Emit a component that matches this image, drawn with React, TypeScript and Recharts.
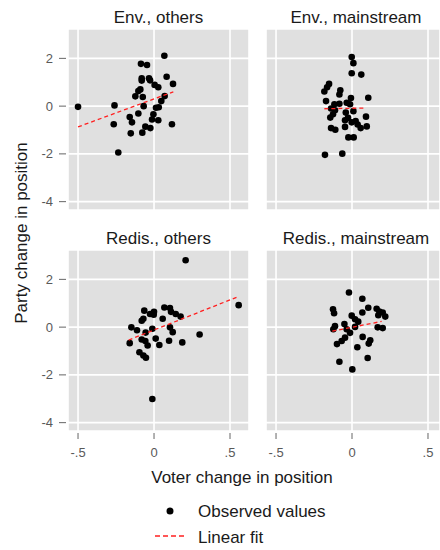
import React from 'react';
import { ScatterChart, Scatter, XAxis, YAxis, CartesianGrid } from 'recharts';

type Pt = [number, number];

const panelTitles = ['Env., others', 'Env., mainstream', 'Redis., others', 'Redis., mainstream'];
const xTicks = [-0.5, 0, 0.5];
const yTicks = [-4, -2, 0, 2];

const envOthers: Pt[] = [
  [-0.5, -0.03], [-0.26, 0.03], [-0.265, -0.76], [-0.235, -1.94], [-0.16, -0.46], [-0.145, -0.68],
  [-0.153, -1.14], [-0.123, 0.41], [-0.103, 0.63], [-0.09, 0.7], [-0.086, 1.77], [-0.046, 1.72],
  [-0.081, 1.17], [-0.081, 1.07], [-0.033, 1.17], [-0.026, 1.08], [-0.074, 0.38], [-0.068, 0.0],
  [-0.103, -0.31], [-0.077, -1.11], [-0.057, -0.86], [-0.024, -0.92], [-0.013, -0.56], [-0.004, -0.34],
  [0.013, -0.07], [0.031, -0.05], [0.028, -0.59], [0.004, 0.89], [0.028, 0.79], [0.048, 0.21],
  [0.07, 0.42], [0.068, 2.11], [0.083, 1.23], [0.125, 0.93], [0.118, -0.76],
];
const envOthersFit: Pt[] = [[-0.5, -0.87], [0.127, 0.6]];

const envMainstream: Pt[] = [
  [-0.002, 2.06], [0.009, 1.8], [-0.002, 1.38], [0.061, 1.32], [-0.151, 0.93], [-0.164, 0.79],
  [-0.182, 0.61], [-0.077, 0.66], [-0.083, 0.49], [-0.171, 0.21], [-0.007, 0.34], [0.107, 0.35],
  [-0.116, 0.08], [-0.083, 0.1], [-0.035, 0.14], [-0.013, 0.08], [-0.138, -0.1], [-0.112, -0.17],
  [-0.041, -0.27], [0.009, -0.21], [-0.143, -0.48], [-0.125, -0.34], [-0.046, -0.59], [-0.026, -0.49],
  [-0.002, -0.68], [0.024, -0.62], [0.092, -0.44], [0.057, -0.92], [0.097, -0.85], [-0.046, -0.87],
  [-0.138, -0.92], [-0.11, -0.99], [-0.024, -1.31], [0.011, -1.31], [-0.178, -2.04], [-0.064, -1.99],
  [0.037, -0.77],
];
const envMainstreamFit: Pt[] = [[-0.182, -0.11], [0.09, -0.08]];

const redisOthers: Pt[] = [
  [0.208, 2.8], [0.557, 0.92], [0.3, -0.31], [0.186, -0.64], [-0.011, -3.01], [-0.16, -0.67],
  [-0.149, -0.01], [-0.112, -0.13], [-0.064, 0.69], [-0.081, 0.27], [-0.07, 0.35], [-0.026, 0.55],
  [0.0, 0.64], [-0.002, 0.52], [-0.011, -0.07], [-0.055, -0.23], [-0.081, -0.52], [-0.057, -0.58],
  [-0.042, -0.77], [-0.096, -1.05], [-0.07, -1.19], [-0.053, -1.28], [0.011, -0.48], [0.035, -0.75],
  [0.057, 0.35], [0.068, 0.82], [0.105, 0.8], [0.112, 0.64], [0.143, 0.55], [0.175, 0.44],
  [0.105, -0.01], [0.123, -0.21], [0.099, -0.57],
];
const redisOthersFit: Pt[] = [[-0.167, -0.54], [0.544, 1.25]];

const redisMainstream: Pt[] = [
  [-0.02, 1.45], [0.068, 1.19], [0.107, 0.81], [-0.125, 0.75], [-0.118, 0.58], [0.068, 0.61],
  [0.162, 0.77], [0.202, 0.61], [0.219, 0.44], [0.173, 0.5], [-0.002, 0.48], [0.02, 0.33],
  [0.041, 0.23], [-0.05, 0.13], [-0.112, 0.04], [-0.123, -0.09], [-0.035, -0.09], [0.02, 0.01],
  [0.169, -0.01], [0.202, -0.04], [-0.013, -0.24], [-0.046, -0.44], [-0.068, -0.58], [-0.099, -0.71],
  [0.07, -0.41], [0.12, -0.55], [0.11, -0.69], [0.035, -0.84], [0.103, -1.29], [-0.083, -1.45],
  [0.002, -1.77], [0.18, 0.65],
];
const redisMainstreamFit: Pt[] = [[-0.13, -0.17], [0.195, 0.24]];

const toRows = (pts: Pt[]) => pts.map(([x, y]) => ({ x, y }));

const fmtX = (v: number) => (v === 0 ? '0' : v < 0 ? '-' + String(v).replace('-0', '') : String(v).replace('0', ''));

const YTick = (props: any) => {
  const { x, y, payload } = props;
  return (
    <g>
      <line x1={x - 9} x2={x - 2} y1={y} y2={y} stroke="#666" strokeWidth={1} />
      <text x={x - 15} y={y} dy={4.5} textAnchor="end" fontSize={13} fill="#595959">
        {String(payload.value)}
      </text>
    </g>
  );
};

const XTick = (props: any) => {
  const { x, y, payload } = props;
  return (
    <g>
      <line x1={x} x2={x} y1={y + 2} y2={y + 8} stroke="#666" strokeWidth={1} />
      <text x={x} y={y + 26} textAnchor="middle" fontSize={13} fill="#595959">
        {fmtX(payload.value)}
      </text>
    </g>
  );
};

const Dot = (p: any) => <circle cx={p.cx} cy={p.cy} r={3.3} fill="#000" />;
const NoDot = () => <g />;

interface PanelProps {
  points: Pt[];
  fit: Pt[];
  left: boolean;
  bottom: boolean;
}

const Panel: React.FC<PanelProps> = ({ points, fit, left, bottom }) => {
  const width = left ? 250 : 174;
  const height = bottom ? 211 : 181;
  return (
    <ScatterChart width={width} height={height} margin={{ top: 0, right: left ? 1 : 0, bottom: 0, left: 0 }}>
      <CartesianGrid fill="#e0e0e0" stroke="#ffffff" strokeWidth={1.6} />
      <XAxis
        type="number"
        dataKey="x"
        domain={left ? [-0.566, 0.625] : [-0.566, 0.579]}
        ticks={xTicks}
        allowDataOverflow
        hide={!bottom}
        height={30}
        axisLine={false}
        tickLine={false}
        tickSize={0}
        tickMargin={0}
        tick={<XTick />}
        interval={0}
      />
      <YAxis
        type="number"
        dataKey="y"
        domain={[-4.35, 3.23]}
        ticks={yTicks}
        allowDataOverflow
        hide={!left}
        width={68}
        axisLine={false}
        tickLine={false}
        tickSize={0}
        tickMargin={0}
        tick={<YTick />}
        interval={0}
      />
      <Scatter data={toRows(points)} shape={Dot} isAnimationActive={false} />
      <Scatter
        data={toRows(fit)}
        shape={NoDot}
        line={{ stroke: '#ff2020', strokeWidth: 1.3, strokeDasharray: '4 3' }}
        isAnimationActive={false}
      />
    </ScatterChart>
  );
};

const App: React.FC = () => {
  const font = '"Liberation Sans", Arial, sans-serif';
  return (
    <div style={{ position: 'absolute', left: 0, top: 0, width: 440, height: 550, overflow: 'hidden', background: '#fff', fontFamily: font }}>
      <div style={{ position: 'absolute', left: 0, top: 29 }}>
        <Panel points={envOthers} fit={envOthersFit} left bottom={false} />
      </div>
      <div style={{ position: 'absolute', left: 266, top: 29 }}>
        <Panel points={envMainstream} fit={envMainstreamFit} left={false} bottom={false} />
      </div>
      <div style={{ position: 'absolute', left: 0, top: 250 }}>
        <Panel points={redisOthers} fit={redisOthersFit} left bottom />
      </div>
      <div style={{ position: 'absolute', left: 266, top: 250 }}>
        <Panel points={redisMainstream} fit={redisMainstreamFit} left={false} bottom />
      </div>
      <svg width={440} height={550} style={{ position: 'absolute', left: 0, top: 0, pointerEvents: 'none' }} fontFamily={font}>
        <text x={158.5} y={22.7} textAnchor="middle" fontSize={17} fill="#1a1a1a">{panelTitles[0]}</text>
        <text x={356} y={22.7} textAnchor="middle" fontSize={17} fill="#1a1a1a">{panelTitles[1]}</text>
        <text x={158.5} y={244.3} textAnchor="middle" fontSize={17} fill="#1a1a1a">{panelTitles[2]}</text>
        <text x={356} y={244.3} textAnchor="middle" fontSize={17} fill="#1a1a1a">{panelTitles[3]}</text>
        <text x={242} y={483} textAnchor="middle" fontSize={17} fill="#1a1a1a">Voter change in position</text>
        <text x={26.5} y={233} textAnchor="middle" fontSize={17} fill="#1a1a1a" transform="rotate(-90 26.5 233)">
          Party change in position
        </text>
        <circle cx={170} cy={511} r={3.5} fill="#000" />
        <text x={198} y={517} fontSize={17} fill="#1a1a1a">Observed values</text>
        <line x1={155} x2={185} y1={536} y2={536} stroke="#ff2020" strokeWidth={1.3} strokeDasharray="5 3" />
        <text x={198} y={542.7} fontSize={17} fill="#1a1a1a">Linear fit</text>
      </svg>
    </div>
  );
};

export default App;
